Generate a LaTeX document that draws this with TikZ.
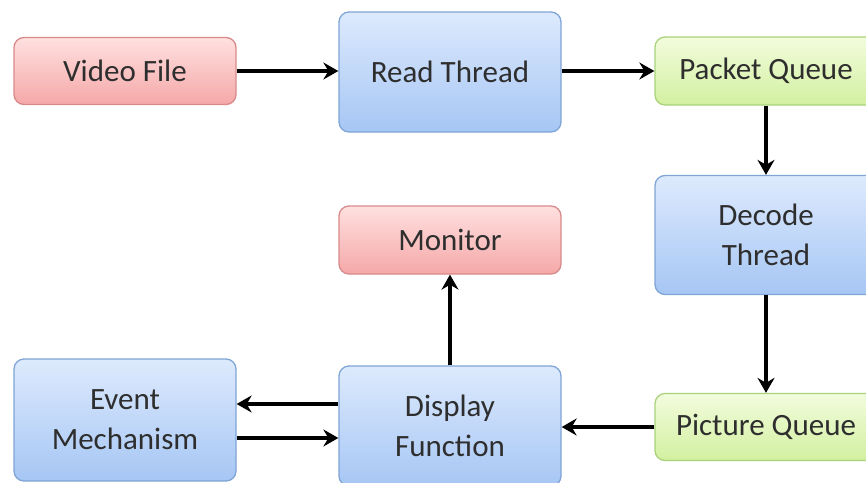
\documentclass[tikz,border=0pt]{standalone}
\usepackage{fontspec}
\setmainfont{Carlito}
\usetikzlibrary{arrows.meta}
\definecolor{txt}{HTML}{2E2E2E}
\definecolor{bluetop}{HTML}{DDEAFD}
\definecolor{bluebot}{HTML}{A6C6F4}
\definecolor{blueline}{HTML}{7FA4D6}
\definecolor{redtop}{HTML}{FFE0E0}
\definecolor{redbot}{HTML}{F5A8A8}
\definecolor{redline}{HTML}{D88A8A}
\definecolor{greentop}{HTML}{F2FCDD}
\definecolor{greenbot}{HTML}{D2F0A0}
\definecolor{greenline}{HTML}{A9D27A}
\begin{document}
\begin{tikzpicture}[x=1pt,y=-1pt,
    box/.style={rounded corners=10pt, minimum width=222pt, text=txt, align=center,
        font=\fontsize{31}{40}\selectfont, line width=1.3pt},
    bluebox/.style={box, draw=blueline, top color=bluetop, bottom color=bluebot},
    redbox/.style={box, draw=redline, top color=redtop, bottom color=redbot},
    greenbox/.style={box, draw=greenline, top color=greentop, bottom color=greenbot},
    flow/.style={line width=4pt, -{Stealth[length=15pt,width=17pt,inset=5pt]}}]
    \useasboundingbox (0,0) rectangle (866,482);
    \clip (0,0) rectangle (866,482);
    % top row
    \node[redbox, minimum height=67pt] (video) at (125,71) {Video File};
    \node[bluebox, minimum height=120pt] (read) at (450,72) {Read Thread};
    \node[greenbox, minimum height=68pt] (packet) at (766,71) {Packet Queue};
    % middle row
    \node[redbox, minimum height=68pt] (monitor) at (450,240) {Monitor};
    \node[bluebox, minimum height=119pt] (decode) at (766,235) {Decode\\Thread};
    % bottom row
    \node[bluebox, minimum height=122pt] (event) at (125,420) {Event\\Mechanism};
    \node[bluebox, minimum height=120pt] (display) at (450,426) {Display\\Function};
    \node[greenbox, minimum height=67pt] (picture) at (766,427) {Picture Queue};
    \coordinate (back) at (0,404);
    \coordinate (forth) at (0,438);
    % connectors
    \draw[flow] (video) -- (read.west |- video);
    \draw[flow] (read.east |- packet) -- (packet);
    \draw[flow] (packet) -- (decode);
    \draw[flow] (decode) -- (picture);
    \draw[flow] (picture.west) -- (display.east |- picture);
    \draw[flow] (display) -- (monitor);
    \draw[flow] (display.west |- back) -- (event.east |- back);
    \draw[flow] (event.east |- forth) -- (display.west |- forth);
\end{tikzpicture}
\end{document}
